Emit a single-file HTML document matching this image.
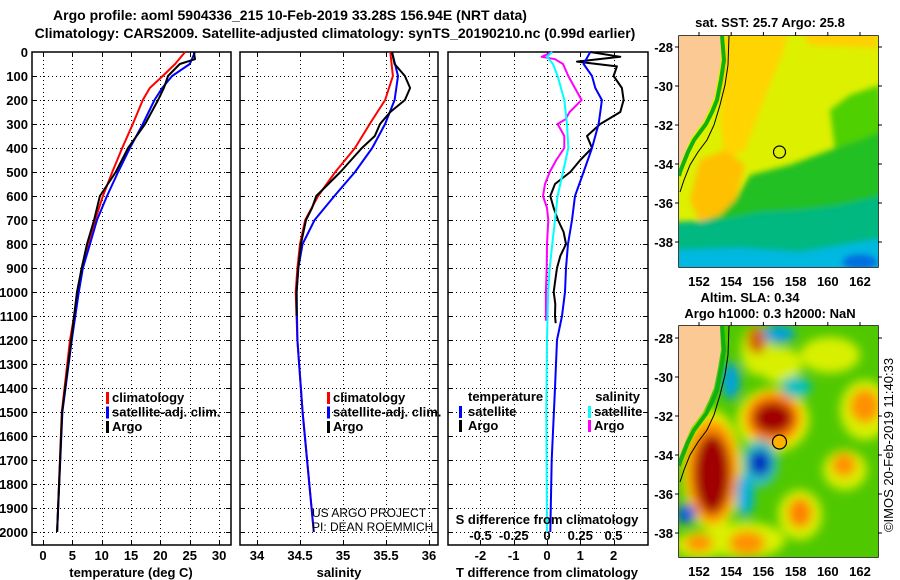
<!DOCTYPE html>
<html><head><meta charset="utf-8">
<style>
body{margin:0;background:#fff;}
svg{display:block;font-family:"Liberation Sans",Arial,sans-serif;font-weight:bold;}
</style></head>
<body>
<svg id="fig" width="900" height="580" viewBox="0 0 900 580" xmlns="http://www.w3.org/2000/svg">
<defs>
<filter id="blur4" x="-20%" y="-20%" width="140%" height="140%"><feGaussianBlur stdDeviation="3"/></filter>
<filter id="blur8" x="-30%" y="-30%" width="160%" height="160%"><feGaussianBlur stdDeviation="5"/></filter>
<clipPath id="clip1"><rect x="679" y="36" width="199" height="231"/></clipPath>
<clipPath id="clip2"><rect x="679" y="326" width="199" height="231"/></clipPath>
</defs>
<text x="290" y="20" font-size="14" text-anchor="middle">Argo profile: aoml 5904336_215 10-Feb-2019 33.28S 156.94E (NRT data)</text>
<text x="335" y="38" font-size="14" text-anchor="middle">Climatology: CARS2009. Satellite-adjusted climatology: synTS_20190210.nc (0.99d earlier)</text>
<g id="panels"></g>
<g id="maps"></g>
</svg>
<script>
// ---- data (depth in dbar) ----
const depthsT = [0,50,100,150,200,300,400,500,600,700,800,900,1000,1100,1200,1500,2000];
const tempClim = [24.2,22.5,20.4,18.2,17.0,15.3,13.5,11.8,10.2,8.9,7.7,6.6,6.0,5.3,4.6,3.2,2.4];
const tempSat  = [25.9,25.0,22.0,20.3,19.0,17.0,14.8,12.8,10.9,9.2,8.0,6.8,6.1,5.5,4.9,3.3,2.4];
const depthsArgoT = [0,30,50,100,150,200,300,400,500,600,700,800,900,1000,1100,1200,1500,2000];
const tempArgo = [25.7,25.9,23.3,21.3,20.6,19.6,17.4,14.5,12.4,9.7,8.7,7.5,6.6,5.8,5.3,4.8,3.25,2.4];
const depthsS = [0,100,200,300,400,500,600,700,800,900,1000,1200,1500,2000];
const salClim = [35.55,35.58,35.49,35.31,35.14,34.91,34.71,34.56,34.50,34.47,34.45,34.47,34.53,34.66];
const salSat  = [35.57,35.64,35.60,35.49,35.34,35.14,34.90,34.67,34.53,34.48,34.46,34.47,34.53,34.66];
const depthsArgoS = [0,50,100,150,200,250,300,350,400,500,600,650,700,800,900,1000,1100];
const salArgo = [35.57,35.60,35.72,35.78,35.72,35.55,35.43,35.37,35.22,34.97,34.69,34.64,34.57,34.51,34.48,34.46,34.46];
const depthsDT = [0,20,40,60,100,150,200,250,300,350,400,450,500,550,600,650,700,750,800,850,900,950,1000,1050,1100,1130];
const tDiffArgo = [1.3,2.2,0.9,2.1,2.0,2.25,2.3,2.2,1.6,1.2,1.35,1.0,0.7,0.24,0.1,0.2,0.33,0.5,0.57,0.4,0.3,0.25,0.2,0.25,0.24,0.26];
const depthsDTs = [0,50,100,150,200,250,300,400,500,600,700,800,900,1000,1100,1200,1400,1700,2000];
const tDiffSat = [1.3,1.1,1.35,1.45,1.65,1.6,1.55,1.35,1.1,0.84,0.75,0.63,0.57,0.54,0.45,0.3,0.24,0.14,0.1];
const depthsDS = [0,20,50,100,200,300,400,500,600,700,800,900,1000,1200,1500,2000];
const sDiffSat = [0.04,0.0,0.045,0.08,0.13,0.15,0.16,0.12,0.08,0.06,0.04,0.02,0.008,0.0,-0.005,0.0];
const depthsDSa = [0,20,30,50,100,150,200,250,280,300,350,400,450,500,550,600,650,700,800,900,1000,1120];
const sDiffArgo = [0.04,-0.04,0.06,0.12,0.16,0.21,0.26,0.17,0.14,0.08,0.13,0.13,0.07,0.02,-0.015,-0.03,0.0,0.01,0.0,-0.002,-0.008,-0.008];
const depthTicks = [0,100,200,300,400,500,600,700,800,900,1000,1100,1200,1300,1400,1500,1600,1700,1800,1900,2000];
const tempTicks = [0,5,10,15,20,25,30];
const salTicks = [34,34.5,35,35.5,36];
const salTickLabels = ['34','34.5','35','35.5','36'];
const tdTicks = [-2,-1,0,1,2];
const sdTicks = [-0.5,-0.25,0,0.25,0.5];
const sdTickLabels = ['-0.5','-0.25','0','0.25','0.5'];
const lonTicks = [152,154,156,158,160,162];
const latTicks = [-28,-30,-32,-34,-36,-38];

const NS='http://www.w3.org/2000/svg';
const PT=52, PB=545;
const yD = d => PT + d*0.24;
const xT = v => 43 + v*5.87;
const xS = v => 257 + (v-34)*86;
const xTD = v => 547 + v*33.3;
const xSD = v => 547 + v*133;
const panels=document.getElementById('panels');
function el(tag, attrs, parent, txt){
  const e=document.createElementNS(NS,tag);
  for(const k in attrs) e.setAttribute(k,attrs[k]);
  if(txt!==undefined) e.textContent=txt;
  (parent||panels).appendChild(e); return e;
}
function line(xs, ds, fx, color, name){
  let d='';
  for(let i=0;i<xs.length;i++) d+=(i?'L':'M')+fx(xs[i]).toFixed(1)+','+yD(ds[i]).toFixed(1);
  const p=el('path',{d:d,fill:'none',stroke:color,'stroke-width':2,'stroke-linejoin':'round'});
  
  
}
function panel(x0,x1,name,vt,fx){
  const g=el('rect',{x:x0,y:PT,width:x1-x0,height:PB-PT,fill:'none',stroke:'#000','stroke-width':1.5});
  
  
  depthTicks.forEach(d=>{ if(d>0&&d<2060){
    const yy=Math.round(yD(d))+0.5;
    el('line',{x1:x0,x2:x1,y1:yy,y2:yy,stroke:'#000','stroke-width':1,'stroke-dasharray':'1,3'});
    el('line',{x1:x0,x2:x0+5,y1:yy,y2:yy,stroke:'#000'});
    el('line',{x1:x1-5,x2:x1,y1:yy,y2:yy,stroke:'#000'});
  }});
  vt.forEach(v=>{const x=Math.round(fx(v))+0.5;
    el('line',{x1:x,x2:x,y1:PT,y2:PB,stroke:'#000','stroke-width':1,'stroke-dasharray':'1,3'});
    el('line',{x1:x,x2:x,y1:PB-5,y2:PB,stroke:'#000'});
    el('line',{x1:x,x2:x,y1:PT,y2:PT+5,stroke:'#000'});
  });
}
panel(32,231,'temperature-panel',tempTicks,xT);
panel(240,438,'salinity-panel',salTicks,xS);
panel(448,648,'difference-panel',tdTicks,xTD);
depthTicks.forEach(d=>{
  const t=el('text',{x:28,y:yD(d)+5,'font-size':13,'text-anchor':'end'},panels,String(d));
  
  
});
tempTicks.forEach(v=>{const t=el('text',{x:xT(v),y:560,'font-size':13,'text-anchor':'middle'},panels,String(v));
  
  });
salTicks.forEach((v,i)=>{const t=el('text',{x:xS(v),y:560,'font-size':13,'text-anchor':'middle'},panels,salTickLabels[i]);
  
  });
tdTicks.forEach(v=>{const t=el('text',{x:xTD(v),y:560,'font-size':13,'text-anchor':'middle'},panels,String(v));
  
  });
sdTicks.forEach((v,i)=>{const t=el('text',{x:xSD(v),y:540,'font-size':13,'text-anchor':'middle'},panels,sdTickLabels[i]);
  
  });
// series
line(tempClim,depthsT,xT,'#ff0000','temp-climatology-line');
line(tempSat,depthsT,xT,'#0000ff','temp-satellite-line');
line(tempArgo,depthsArgoT,xT,'#000','temp-argo-line');
line(salClim,depthsS,xS,'#ff0000','sal-climatology-line');
line(salSat,depthsS,xS,'#0000ff','sal-satellite-line');
line(salArgo,depthsArgoS,xS,'#000','sal-argo-line');
line(sDiffArgo,depthsDSa,xSD,'#ff00ff','s-diff-argo-line');
line(tDiffArgo,depthsDT,xTD,'#000','t-diff-argo-line');
line(tDiffSat,depthsDTs,xTD,'#0000ff','t-diff-satellite-line');
line(sDiffSat,depthsDS,xSD,'#00ffff','s-diff-satellite-line');
// legends / labels
function txt(x,y,s,name,size,anchor,weight){
  const t=el('text',{x:x,y:y,'font-size':size||13,'text-anchor':anchor||'start','font-weight':weight||'bold'},panels,s);
  
  
  return t;
}
function mark(x,y,c){el('rect',{x:x,y:y-10,width:3,height:12,fill:c});}
[[106,'climatology','#f00'],[106,'satellite-adj. clim.','#00f'],[106,'Argo','#000']].forEach((e,i)=>{
  mark(e[0],402+i*14.5,e[2]); txt(e[0]+6,402+i*14.5,e[1],'temp-legend-entry');
  mark(327,402+i*14.5,e[2]); txt(333,402+i*14.5,e[1],'sal-legend-entry');
});
txt(468,401,'temperature','diff-legend-temperature-header');
txt(640,401,'salinity','diff-legend-salinity-header',13,'end');
mark(459,416,'#00f'); txt(468,416,'satellite','diff-legend-temp-satellite');
mark(459,430,'#000'); txt(468,430,'Argo','diff-legend-temp-argo');
mark(588,416,'#0ff'); txt(594,416,'satellite','diff-legend-sal-satellite');
mark(588,430,'#f0f'); txt(594,430,'Argo','diff-legend-sal-argo');
txt(312,517,'US ARGO PROJECT','project-credit',12,'start','normal');
txt(312,531,'PI: DEAN ROEMMICH','pi-credit',12,'start','normal');
txt(547,524,'S difference from climatology','s-diff-axis-title',13,'middle');
txt(131,577,'temperature (deg C)','temperature-axis-title',13,'middle');
txt(339,577,'salinity','salinity-axis-title',13,'middle');
txt(547,577,'T difference from climatology','t-diff-axis-title',13,'middle');

// ---- maps ----
const maps=document.getElementById('maps');
function mel(tag,attrs,parent,t){return el(tag,attrs,parent||maps,t);}
const lonX = l => 699 + (l-152)*16.1;
function mapFrame(top,latTop,name,titleLines){
  const latY = la => latTop + (-28-la)*19.5;
  titleLines.forEach((s,i)=>{const t=mel('text',{x:s[1],y:s[2],'font-size':13,'text-anchor':'middle'},maps,s[0]);
    
    });
  const r=mel('rect',{x:679,y:top,width:199,height:231,fill:'none',stroke:'#000','stroke-width':1.5});
  
  
  lonTicks.forEach(l=>{mel('line',{x1:lonX(l),x2:lonX(l),y1:top+231,y2:top+226,stroke:'#000'});
    mel('line',{x1:lonX(l),x2:lonX(l),y1:top,y2:top-4,stroke:'#000'});
    const t=mel('text',{x:lonX(l),y:top+250,'font-size':13,'text-anchor':'middle'},maps,String(l));
    
    });
  latTicks.forEach(la=>{mel('line',{x1:679,x2:675,y1:latY(la),y2:latY(la),stroke:'#000'});
    mel('line',{x1:878,x2:882,y1:latY(la),y2:latY(la),stroke:'#000'});
    const t=mel('text',{x:673,y:latY(la)+5,'font-size':13,'text-anchor':'end'},maps,String(la));
    
    });
}
function land(top,clip){
  const dy=top-36;
  const g=mel('g',{'clip-path':'url(#'+clip+')'});
  mel('path',{d:`M722,${36+dy} L724,${60+dy} L721,${80+dy} L717,${100+dy} L712,${112+dy} L706,${124+dy} L700,${132+dy} L694,${140+dy} L688,${152+dy} L684,${162+dy} L680,${172+dy} L679,${176+dy}`,fill:'none',stroke:'#10b010','stroke-width':4},g);
  mel('path',{d:`M679,${36+dy} L720,${36+dy} L721,${60+dy} L718,${78+dy} L714,${98+dy} L709,${110+dy} L703,${122+dy} L697,${130+dy} L691,${138+dy} L686,${150+dy} L682,${160+dy} L679,${168+dy} Z`,fill:'#fbc994'},g);
  mel('path',{d:`M729,${36+dy} L728,${65+dy} L725,${85+dy} L720,${105+dy} L714,${125+dy} L707,${140+dy} L698,${152+dy} L690,${165+dy} L684,${180+dy} L680,${192+dy}`,fill:'none',stroke:'#000','stroke-width':1},g);
}
// SST map
mapFrame(36,47,'sst-map',[['sat. SST: 25.7 Argo: 25.8',770,27]]);
const g1=mel('g',{'clip-path':'url(#clip1)'});


mel('rect',{x:679,y:36,width:199,height:231,fill:'#ddf000'},g1);
const gb=mel('g',{filter:'url(#blur4)'},g1);
mel('path',{d:'M725,30 L790,30 L780,60 L760,110 L745,150 L725,160 L720,120 Z',fill:'#ffd400'},gb);
mel('path',{d:'M700,160 L725,150 L745,165 L735,200 L720,215 L700,222 L690,200 Z',fill:'#ffc000'},gb);
mel('path',{d:'M800,30 L878,30 L878,48 L810,45 Z',fill:'#ffd000'},gb);
mel('path',{d:'M830,110 L850,95 L880,85 L885,150 L835,150 Z',fill:'#50d000'},gb);
mel('path',{d:'M735,200 L750,175 L790,165 L830,150 L860,140 L885,130 L885,280 L670,280 L690,225 L720,215 Z',fill:'#20c020'},gb);
mel('path',{d:'M670,222 L720,220 L760,212 L800,210 L840,205 L885,195 L885,280 L670,280 Z',fill:'#00b880'},gb);
mel('path',{d:'M670,250 L740,248 L800,252 L885,238 L885,280 L670,280 Z',fill:'#00b8e0'},gb);
mel('ellipse',{cx:860,cy:262,rx:18,ry:8,fill:'#0070e0'},gb);
land(36,'clip1');
mel('circle',{cx:lonX(157),cy:152,r:6,fill:'none',stroke:'#000','stroke-width':1.2});
// SLA map
mapFrame(326,338,'sla-map',[['Altim. SLA: 0.34',750,302],['Argo h1000: 0.3 h2000: NaN',770,318]]);
const g2=mel('g',{'clip-path':'url(#clip2)'});


mel('rect',{x:679,y:326,width:199,height:231,fill:'#50c800'},g2);
const gs=mel('g',{filter:'url(#blur8)'},g2);
const blobs=[
 [780,365,22,18,'#d8f000'],[830,355,30,18,'#d8f000'],[865,410,25,30,'#d8f000'],[845,470,22,20,'#d8f000'],
 [800,515,22,25,'#d8f000'],[745,540,40,18,'#d8f000'],[700,545,25,14,'#d8f000'],[757,350,16,25,'#d8f000'],
 [712,470,30,60,'#e8f000'],[773,420,36,32,'#e8f000'],
 [712,472,26,52,'#ff9000'],[712,474,18,40,'#a00000'],
 [773,418,28,26,'#ff8000'],[773,418,20,16,'#a00000'],
 [757,340,10,14,'#d06000'],
 [760,463,18,24,'#30c0c0'],[760,463,11,13,'#0030c0'],[745,495,9,22,'#00b0e0'],
 [731,381,9,19,'#00a0e0'],[779,334,16,9,'#00a0e0'],[796,387,15,11,'#00c0c0'],
 [865,406,15,17,'#ff9000'],[844,465,12,12,'#ff9000'],[800,513,12,15,'#ff8000'],
 [747,543,18,12,'#ff9000'],[699,543,14,9,'#ff9000'],[686,514,10,10,'#0060e0']
];
blobs.forEach(b=>mel('ellipse',{cx:b[0],cy:b[1],rx:b[2],ry:b[3],fill:b[4]},gs));
land(326,'clip2');
mel('circle',{cx:lonX(157),cy:442,r:7,fill:'#ffb000',stroke:'#000','stroke-width':1.2});
const im=mel('text',{x:0,y:0,'font-size':13,'font-weight':'normal',transform:'translate(893,445) rotate(-90)','text-anchor':'middle'},maps,'©IMOS 20-Feb-2019 11:40:33');


</script>
</body></html>
